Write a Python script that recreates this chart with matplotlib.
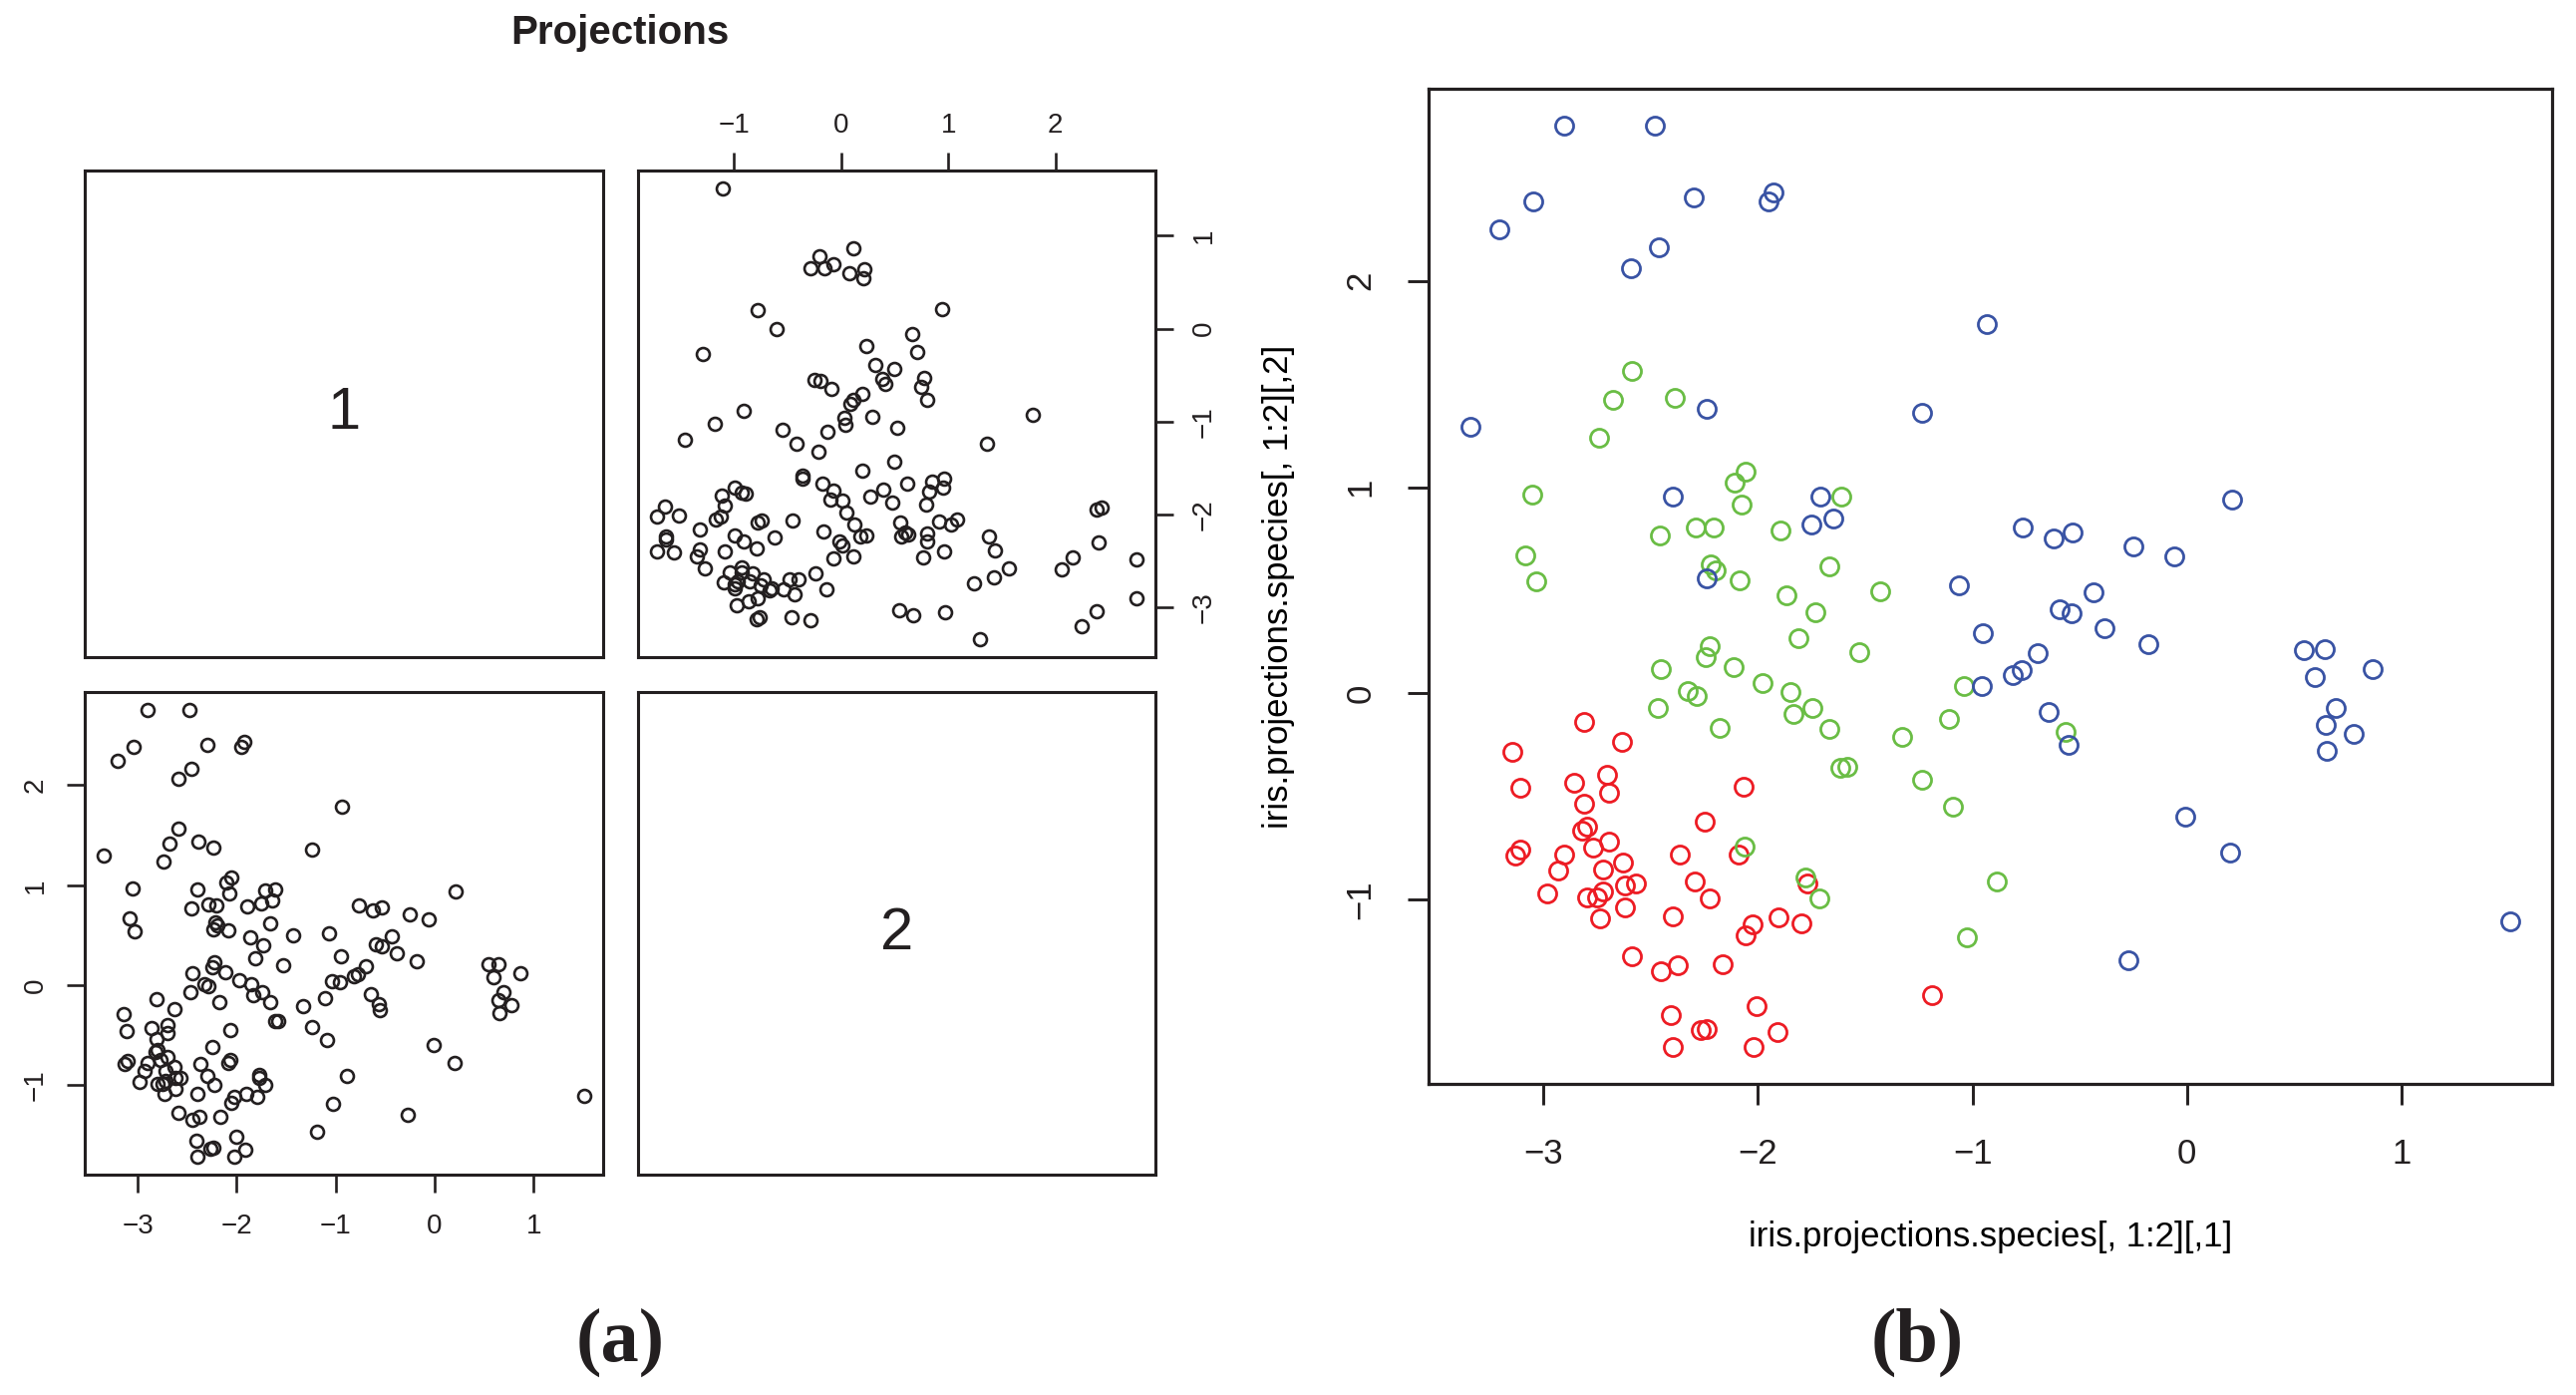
import matplotlib.pyplot as plt
import numpy as np

# projection coordinates, one pair of lists per species
setosa_x = [-2.809, -2.634, -3.144, -3.108, -2.857, -2.703, -2.697, -2.811, -2.066, -2.247,
            -2.799, -2.821, -3.107, -3.132, -2.905, -2.768, -2.696, -2.364, -2.090, -2.630,
            -2.931, -2.721, -2.622, -2.570, -2.295, -1.769, -2.983, -2.799, -2.751, -2.723,
            -2.226, -2.622, -2.735, -2.396, -2.025, -2.058, -1.903, -1.796, -2.586, -2.451,
            -2.376, -2.166, -1.191, -2.009, -2.407, -2.269, -2.238, -1.910, -2.396, -2.023]
setosa_y = [-0.140, -0.237, -0.285, -0.458, -0.432, -0.394, -0.482, -0.535, -0.452, -0.621,
            -0.644, -0.666, -0.758, -0.785, -0.781, -0.747, -0.719, -0.784, -0.781, -0.821,
            -0.858, -0.852, -0.931, -0.924, -0.911, -0.924, -0.969, -0.990, -0.989, -0.960,
            -0.994, -1.039, -1.090, -1.082, -1.119, -1.173, -1.087, -1.116, -1.273, -1.347,
            -1.318, -1.315, -1.461, -1.515, -1.558, -1.632, -1.629, -1.640, -1.715, -1.715]

versicolor_x = [-2.586, -2.678, -2.386, -2.740, -2.058, -2.107, -3.053, -2.078, -1.614, -2.460,
                -2.291, -2.207, -1.894, -3.086, -3.034, -2.221, -2.199, -2.087, -1.666, -1.868,
                -1.432, -1.734, -1.810, -1.528, -2.224, -2.242, -2.453, -2.113, -1.979, -1.851,
                -2.329, -2.288, -2.469, -1.836, -1.746, -2.180, -1.667, -1.110, -1.038, -1.328,
                -1.617, -1.583, -1.236, -1.089, -2.063, -1.777, -1.714, -0.888, -1.026, -0.568]
versicolor_y = [1.563, 1.421, 1.435, 1.239, 1.077, 1.023, 0.966, 0.915, 0.956, 0.765,
                0.805, 0.802, 0.789, 0.668, 0.542, 0.624, 0.597, 0.550, 0.616, 0.476,
                0.495, 0.395, 0.269, 0.202, 0.231, 0.177, 0.116, 0.126, 0.052, 0.008,
                0.013, -0.011, -0.069, -0.098, -0.069, -0.168, -0.171, -0.126, 0.037, -0.213,
                -0.363, -0.358, -0.419, -0.548, -0.745, -0.892, -0.994, -0.911, -1.182, -0.189]

virginica_x = [-2.905, -2.481, -3.046, -3.205, -2.300, -1.929, -1.951, -2.462, -2.592, -0.933,
               -2.238, -3.342, -1.236, -2.396, -1.709, -1.647, -1.752, -2.238, -1.064, 0.210,
               -0.768, -0.623, -0.534, -0.251, -0.059, -0.435, -0.950, -0.957, -0.592, -0.537,
               -0.386, -0.182, -0.697, -0.812, -0.771, -0.647, -0.552, 0.544, 0.640, 0.596,
               0.867, 0.694, 0.647, 0.778, 0.652, -0.010, 0.203, 1.508, -0.272]
virginica_y = [2.753, 2.753, 2.385, 2.248, 2.406, 2.431, 2.384, 2.161, 2.061, 1.790,
               1.379, 1.295, 1.361, 0.956, 0.952, 0.850, 0.818, 0.560, 0.523, 0.939,
               0.802, 0.750, 0.779, 0.711, 0.663, 0.492, 0.294, 0.035, 0.410, 0.387,
               0.318, 0.239, 0.194, 0.090, 0.115, -0.089, -0.248, 0.211, 0.213, 0.081,
               0.118, -0.069, -0.152, -0.198, -0.281, -0.600, -0.774, -1.105, -1.292]

species_colors = ['#ed1c24', '#6abd45', '#3953a4']

proj1 = np.array(setosa_x + versicolor_x + virginica_x)
proj2 = np.array(setosa_y + versicolor_y + virginica_y)

ticks_p1 = [-3, -2, -1, 0, 1]
ticks_p2 = [-1, 0, 1, 2]

INK = '#231f20'
W, H = 2584, 1399

plt.rcParams['font.family'] = ['Liberation Sans', 'DejaVu Sans']
plt.rcParams['text.color'] = INK

fig = plt.figure(figsize=(W / 100, H / 100), dpi=100)


def box(x0, y0, x1, y1):
    return fig.add_axes([x0 / W, 1 - y1 / H, (x1 - x0) / W, (y1 - y0) / H])


def frame(ax, lw):
    for s in ax.spines.values():
        s.set_linewidth(lw)
        s.set_color(INK)


def lab(v):
    return str(v).replace('-', '\u2212')


# ---------------- (a) pairs plot ----------------
small = 20
tick_kw = dict(direction='out', length=13, width=1.9, colors=INK, labelsize=small, pad=13)

ax11 = box(85, 171, 605, 659)
ax12 = box(640, 171, 1159, 659)
ax21 = box(85, 694, 605, 1178)
ax22 = box(640, 694, 1159, 1178)

for ax, name in [(ax11, '1'), (ax22, '2')]:
    frame(ax, 2.2)
    ax.set_xticks([])
    ax.set_yticks([])
    ax.text(0.5, 0.5, name, transform=ax.transAxes, ha='center', va='center', fontsize=43)

# bottom-left: proj1 vs proj2
frame(ax21, 2.2)
ax21.plot(proj1, proj2, 'o', mfc='none', mec=INK, ms=9.3, mew=1.9)
ax21.margins(0.04)
ax21.set_xticks(ticks_p1, [lab(t) for t in ticks_p1])
ax21.set_yticks(ticks_p2, [lab(t) for t in ticks_p2], rotation=90, va='center')
ax21.tick_params(**tick_kw)
ax21.tick_params(axis='x', pad=15)

# top-right: proj2 vs proj1
frame(ax12, 2.2)
ax12.plot(proj2, proj1, 'o', mfc='none', mec=INK, ms=9.3, mew=1.9)
ax12.margins(0.04)
ax12.xaxis.tick_top()
ax12.yaxis.tick_right()
ax12.set_xticks(ticks_p2, [lab(t) for t in ticks_p2])
ax12.set_yticks(ticks_p1, [lab(t) for t in ticks_p1], rotation=90, va='center')
ax12.tick_params(**tick_kw)
ax12.tick_params(axis='x', pad=10)

fig.text(622 / W, 1 - 33 / H, 'Projections', ha='center', va='center',
         fontsize=29, fontweight='bold')

# ---------------- (b) coloured scatter ----------------
axb = box(1433, 89, 2560, 1087)
frame(axb, 2.3)
groups = [(setosa_x, setosa_y), (versicolor_x, versicolor_y), (virginica_x, virginica_y)]
for (gx, gy), col in zip(groups, species_colors):
    axb.plot(gx, gy, 'o', mfc='none', mec=col, ms=13, mew=2.0)
axb.margins(0.04)
axb.set_xticks(ticks_p1, [lab(t) for t in ticks_p1])
axb.set_yticks(ticks_p2, [lab(t) for t in ticks_p2], rotation=90, va='center')
axb.tick_params(direction='out', length=15, width=2.1, colors=INK, labelsize=25, pad=22)
axb.tick_params(axis='x', pad=24)
axb.set_xlabel('iris.projections.species[, 1:2][,1]', fontsize=25, labelpad=36)
axb.set_ylabel('iris.projections.species[, 1:2][,2]', fontsize=25, labelpad=36)

fig.text(622 / W, 1 - 1346 / H, '(a)', ha='center', va='center', fontsize=55,
         fontweight='bold', family='Liberation Serif')
fig.text(1923 / W, 1 - 1346 / H, '(b)', ha='center', va='center', fontsize=55,
         fontweight='bold', family='Liberation Serif')

fig.savefig('out.png', dpi=100)
